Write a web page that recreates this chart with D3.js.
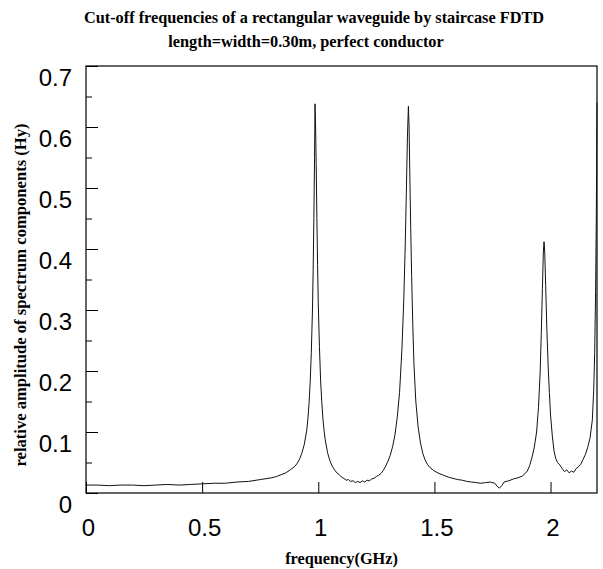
<!DOCTYPE html>
<html>
<head>
<meta charset="utf-8">
<script src="https://cdn.jsdelivr.net/npm/d3@7"></script>
<style>
  body { margin: 0; background: #fff; }
  .title, .axis-label { font-family: "Liberation Serif", "Times New Roman", serif; font-weight: bold; font-size: 16.3px; fill: #000; }
  .axis-label.y { font-size: 16.6px; }
  .tick text { font-family: "Liberation Sans", Arial, sans-serif; font-size: 24px; fill: #000; }
</style>
</head>
<body>
<div id="chart"></div>
<script>
// chart size
var svgWidth = 603;
var svgHeight = 569;

var margin = { top: 66, right: 6, bottom: 76, left: 86 };
var width = svgWidth - margin.left - margin.right;
var height = svgHeight - margin.top - margin.bottom;

// spectrum: frequency (GHz) and relative amplitude
var freq = [
  0.00, 0.05, 0.10, 0.15, 0.20, 0.25, 0.30, 0.35, 0.40, 0.45, 0.50, 0.55, 0.60, 0.65, 0.70, 0.75,
  0.80, 0.82, 0.84, 0.86, 0.88, 0.90, 0.91, 0.92, 0.93, 0.94, 0.95, 0.955, 0.96, 0.965, 0.97, 0.975,
  0.978, 0.981, 0.984, 0.986, 0.988, 0.991, 0.994, 0.997, 1.000, 1.005, 1.010, 1.015, 1.020, 1.025,
  1.030, 1.040, 1.050, 1.060, 1.070, 1.080, 1.090, 1.100, 1.110, 1.120, 1.130, 1.140, 1.150, 1.160,
  1.170, 1.180, 1.190, 1.200, 1.210, 1.220, 1.230, 1.240, 1.250, 1.260, 1.270, 1.280, 1.290, 1.300,
  1.310, 1.320, 1.330, 1.340, 1.350, 1.360, 1.368, 1.374, 1.379, 1.384, 1.388, 1.391, 1.394, 1.398,
  1.402, 1.407, 1.412, 1.420, 1.430, 1.440, 1.450, 1.460, 1.470, 1.480, 1.490, 1.500, 1.520, 1.540,
  1.560, 1.580, 1.600, 1.620, 1.640, 1.660, 1.680, 1.700, 1.720, 1.740, 1.760, 1.770, 1.780, 1.790,
  1.800, 1.820, 1.840, 1.860, 1.880, 1.900, 1.910, 1.920, 1.930, 1.940, 1.948, 1.955, 1.960, 1.965,
  1.969, 1.972, 1.975, 1.979, 1.984, 1.990, 1.995, 2.000, 2.008, 2.015, 2.022, 2.030, 2.040, 2.050,
  2.060, 2.070, 2.080, 2.090, 2.100, 2.110, 2.120, 2.130, 2.140, 2.150, 2.160, 2.170, 2.180, 2.186,
  2.190, 2.194, 2.197, 2.200
];
var amp = [
  0.013, 0.013, 0.012, 0.013, 0.013, 0.012, 0.013, 0.014, 0.013, 0.014, 0.015, 0.016, 0.016, 0.018, 0.019, 0.022,
  0.025, 0.027, 0.030, 0.033, 0.038, 0.044, 0.049, 0.056, 0.066, 0.080, 0.102, 0.120, 0.145, 0.180, 0.230, 0.300,
  0.365, 0.450, 0.550, 0.638, 0.610, 0.540, 0.450, 0.375, 0.310, 0.240, 0.185, 0.150, 0.122, 0.102,
  0.087, 0.066, 0.053, 0.044, 0.038, 0.033, 0.030, 0.026, 0.024, 0.021, 0.022, 0.019, 0.020, 0.017,
  0.019, 0.017, 0.020, 0.018, 0.021, 0.020, 0.023, 0.024, 0.027, 0.029, 0.032, 0.037, 0.044, 0.052,
  0.062, 0.076, 0.095, 0.124, 0.165, 0.235, 0.315, 0.400, 0.490, 0.585, 0.634, 0.600, 0.525, 0.435,
  0.355, 0.275, 0.210, 0.150, 0.108, 0.082, 0.065, 0.054, 0.047, 0.042, 0.039, 0.036, 0.032, 0.029,
  0.026, 0.024, 0.022, 0.021, 0.019, 0.018, 0.017, 0.016, 0.017, 0.018, 0.016, 0.011, 0.008, 0.012,
  0.018, 0.020, 0.023, 0.025, 0.028, 0.036, 0.045, 0.058, 0.075, 0.100, 0.140, 0.195, 0.260, 0.335,
  0.395, 0.412, 0.395, 0.340, 0.270, 0.205, 0.165, 0.128, 0.092, 0.069, 0.057, 0.050, 0.046, 0.040,
  0.035, 0.038, 0.033, 0.036, 0.034, 0.040, 0.043, 0.047, 0.055, 0.063, 0.075, 0.090, 0.120, 0.170,
  0.230, 0.330, 0.450, 0.640
];

var xTicks = [0, 0.5, 1, 1.5, 2];
var yTicks = [0, 0.1, 0.2, 0.3, 0.4, 0.5, 0.6, 0.7];
var yMinorTicks = [0.05, 0.15, 0.25, 0.35, 0.45, 0.55, 0.65];

var svg = d3.select("#chart")
  .append("svg")
  .attr("width", svgWidth)
  .attr("height", svgHeight);

var chartGroup = svg.append("g")
  .attr("transform", `translate(${margin.left}, ${margin.top})`);

var xScale = d3.scaleLinear().domain([0, 2.2]).range([0, width]);
var yScale = d3.scaleLinear().domain([0, 0.7]).range([height, 0]);

// axes, ticks pointing into the plot
var bottomAxis = d3.axisBottom(xScale)
  .tickValues(xTicks)
  .tickFormat(d3.format("~g"))
  .tickSizeInner(-11)
  .tickSizeOuter(0)
  .tickPadding(26);

var leftAxis = d3.axisLeft(yScale)
  .tickValues(yTicks)
  .tickFormat(d3.format("~g"))
  .tickSizeInner(-12)
  .tickSizeOuter(0)
  .tickPadding(14);

var minorAxis = d3.axisLeft(yScale)
  .tickValues(yMinorTicks)
  .tickFormat("")
  .tickSizeInner(-6)
  .tickSizeOuter(0);

var xg = chartGroup.append("g")
  .attr("transform", `translate(0, ${height})`)
  .call(bottomAxis);
xg.select(".domain").remove();
xg.selectAll(".tick text").attr("dx", 2);

var yg = chartGroup.append("g").call(leftAxis);
yg.select(".domain").remove();
yg.selectAll(".tick text").attr("dy", "0.82em");

var mg = chartGroup.append("g").call(minorAxis);
mg.select(".domain").remove();

chartGroup.selectAll(".tick line").attr("stroke", "#000");

// frame
chartGroup.append("rect")
  .attr("x", 0)
  .attr("y", 0)
  .attr("width", width)
  .attr("height", height)
  .attr("fill", "none")
  .attr("stroke", "#000")
  .attr("stroke-width", 1.2);

// spectrum curve
var points = freq.map(function(f, i) { return [f, amp[i]]; });
var line = d3.line()
  .x(d => xScale(d[0]))
  .y(d => yScale(d[1]));

chartGroup.append("path")
  .datum(points)
  .attr("d", line)
  .attr("fill", "none")
  .attr("stroke", "#111")
  .attr("stroke-width", 1);

// titles
svg.append("text")
  .attr("class", "title")
  .attr("text-anchor", "middle")
  .attr("x", 314)
  .attr("y", 23)
  .text("Cut-off frequencies of a rectangular waveguide by staircase FDTD");

svg.append("text")
  .attr("class", "title")
  .attr("text-anchor", "middle")
  .attr("x", 306)
  .attr("y", 47)
  .text("length=width=0.30m, perfect conductor");

svg.append("text")
  .attr("class", "axis-label")
  .attr("text-anchor", "middle")
  .attr("x", margin.left + width / 2)
  .attr("y", 564)
  .text("frequency(GHz)");

svg.append("text")
  .attr("class", "axis-label y")
  .attr("text-anchor", "middle")
  .attr("transform", "translate(26, 295) rotate(-90)")
  .text("relative amplitude of spectrum components (Hy)");
</script>
</body>
</html>
